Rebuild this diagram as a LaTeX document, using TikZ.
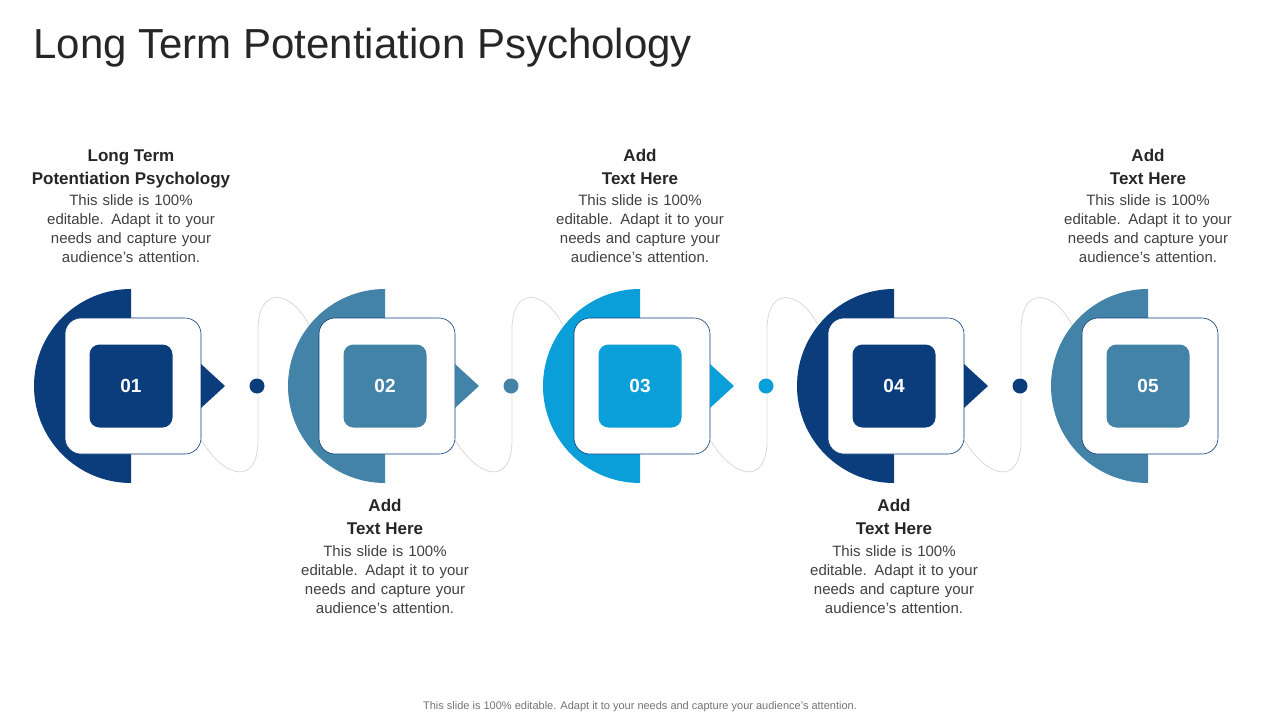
\documentclass[tikz,border=0pt]{standalone}
\usepackage{fontspec}
\setmainfont{Liberation Sans}
\definecolor{navy}{RGB}{11,61,124}
\definecolor{steel}{RGB}{67,131,168}
\definecolor{sky}{RGB}{10,159,216}
\definecolor{textgray}{RGB}{64,64,64}
\tikzset{
  headtext/.style={font=\bfseries\fontsize{17}{23}\selectfont, text=black!85, align=center},
  bodytext/.style={font=\fontsize{15}{19}\selectfont, text=textgray, align=center, text width=200pt},
  numbox/.style={rounded corners=10pt, minimum size=83pt, inner sep=0pt, text=white, font=\bfseries\fontsize{19}{19}\selectfont},
  framebox/.style={draw=navy, line width=0.6pt, fill=white, rounded corners=16pt, minimum size=136pt, inner sep=0pt},
  wire/.style={draw=black!15, line width=0.8pt}
}
\begin{document}
\begin{tikzpicture}[x=1pt,y=-1pt]
  \useasboundingbox (0,0) rectangle (1280,720);
  \node[anchor=west, font=\fontsize{42}{42}\selectfont, text=black!85] (title) at (30,48) {Long Term Potentiation Psychology};

  % connectors behind the units
  \foreach \cx in {131,385,640,894} {
    \draw[wire] (\cx+70,440) .. controls (\cx+95,480) and (\cx+127,485) .. (\cx+127,440)
      -- (\cx+127,330) .. controls (\cx+127,285) and (\cx+160,290) .. (\cx+178,325);
  }

  % units
  \foreach \cx/\col/\n in {131/navy/01,385/steel/02,640/sky/03,894/navy/04,1148/steel/05} {
    \fill[\col] (\cx,289) arc[start angle=270, end angle=90, radius=97] -- cycle;
    \node[framebox] (frame\n) at (\cx+2,386) {};
    \node[numbox, fill=\col] (num\n) at (\cx,386) {\n};
  }
  \foreach \cx/\col in {131/navy,385/steel,640/sky,894/navy} {
    \fill[\col] (\cx+70,364) -- (\cx+94,386) -- (\cx+70,408) -- cycle;
    \fill[\col] (\cx+126,386) circle (7.5);
  }

  % texts above
  \foreach \cx/\head in {131/{Long Term\\Potentiation Psychology},640/{Add\\Text Here},1148/{Add\\Text Here}} {
    \node[headtext, anchor=north] (head\cx) at (\cx,146) {\head};
    \node[bodytext, anchor=north] (body\cx) at (\cx,191) {This slide is 100\%\\editable. Adapt it to your\\needs and capture your\\audience's attention.};
  }
  % texts below
  \foreach \cx in {385,894} {
    \node[headtext, anchor=north] (head\cx) at (\cx,496) {Add\\Text Here};
    \node[bodytext, anchor=north] (body\cx) at (\cx,542) {This slide is 100\%\\editable. Adapt it to your\\needs and capture your\\audience's attention.};
  }

  \node[font=\fontsize{11}{11}\selectfont, text=black!55] (footer) at (640,707) {This slide is 100\% editable. Adapt it to your needs and capture your audience's attention.};
\end{tikzpicture}
\end{document}
